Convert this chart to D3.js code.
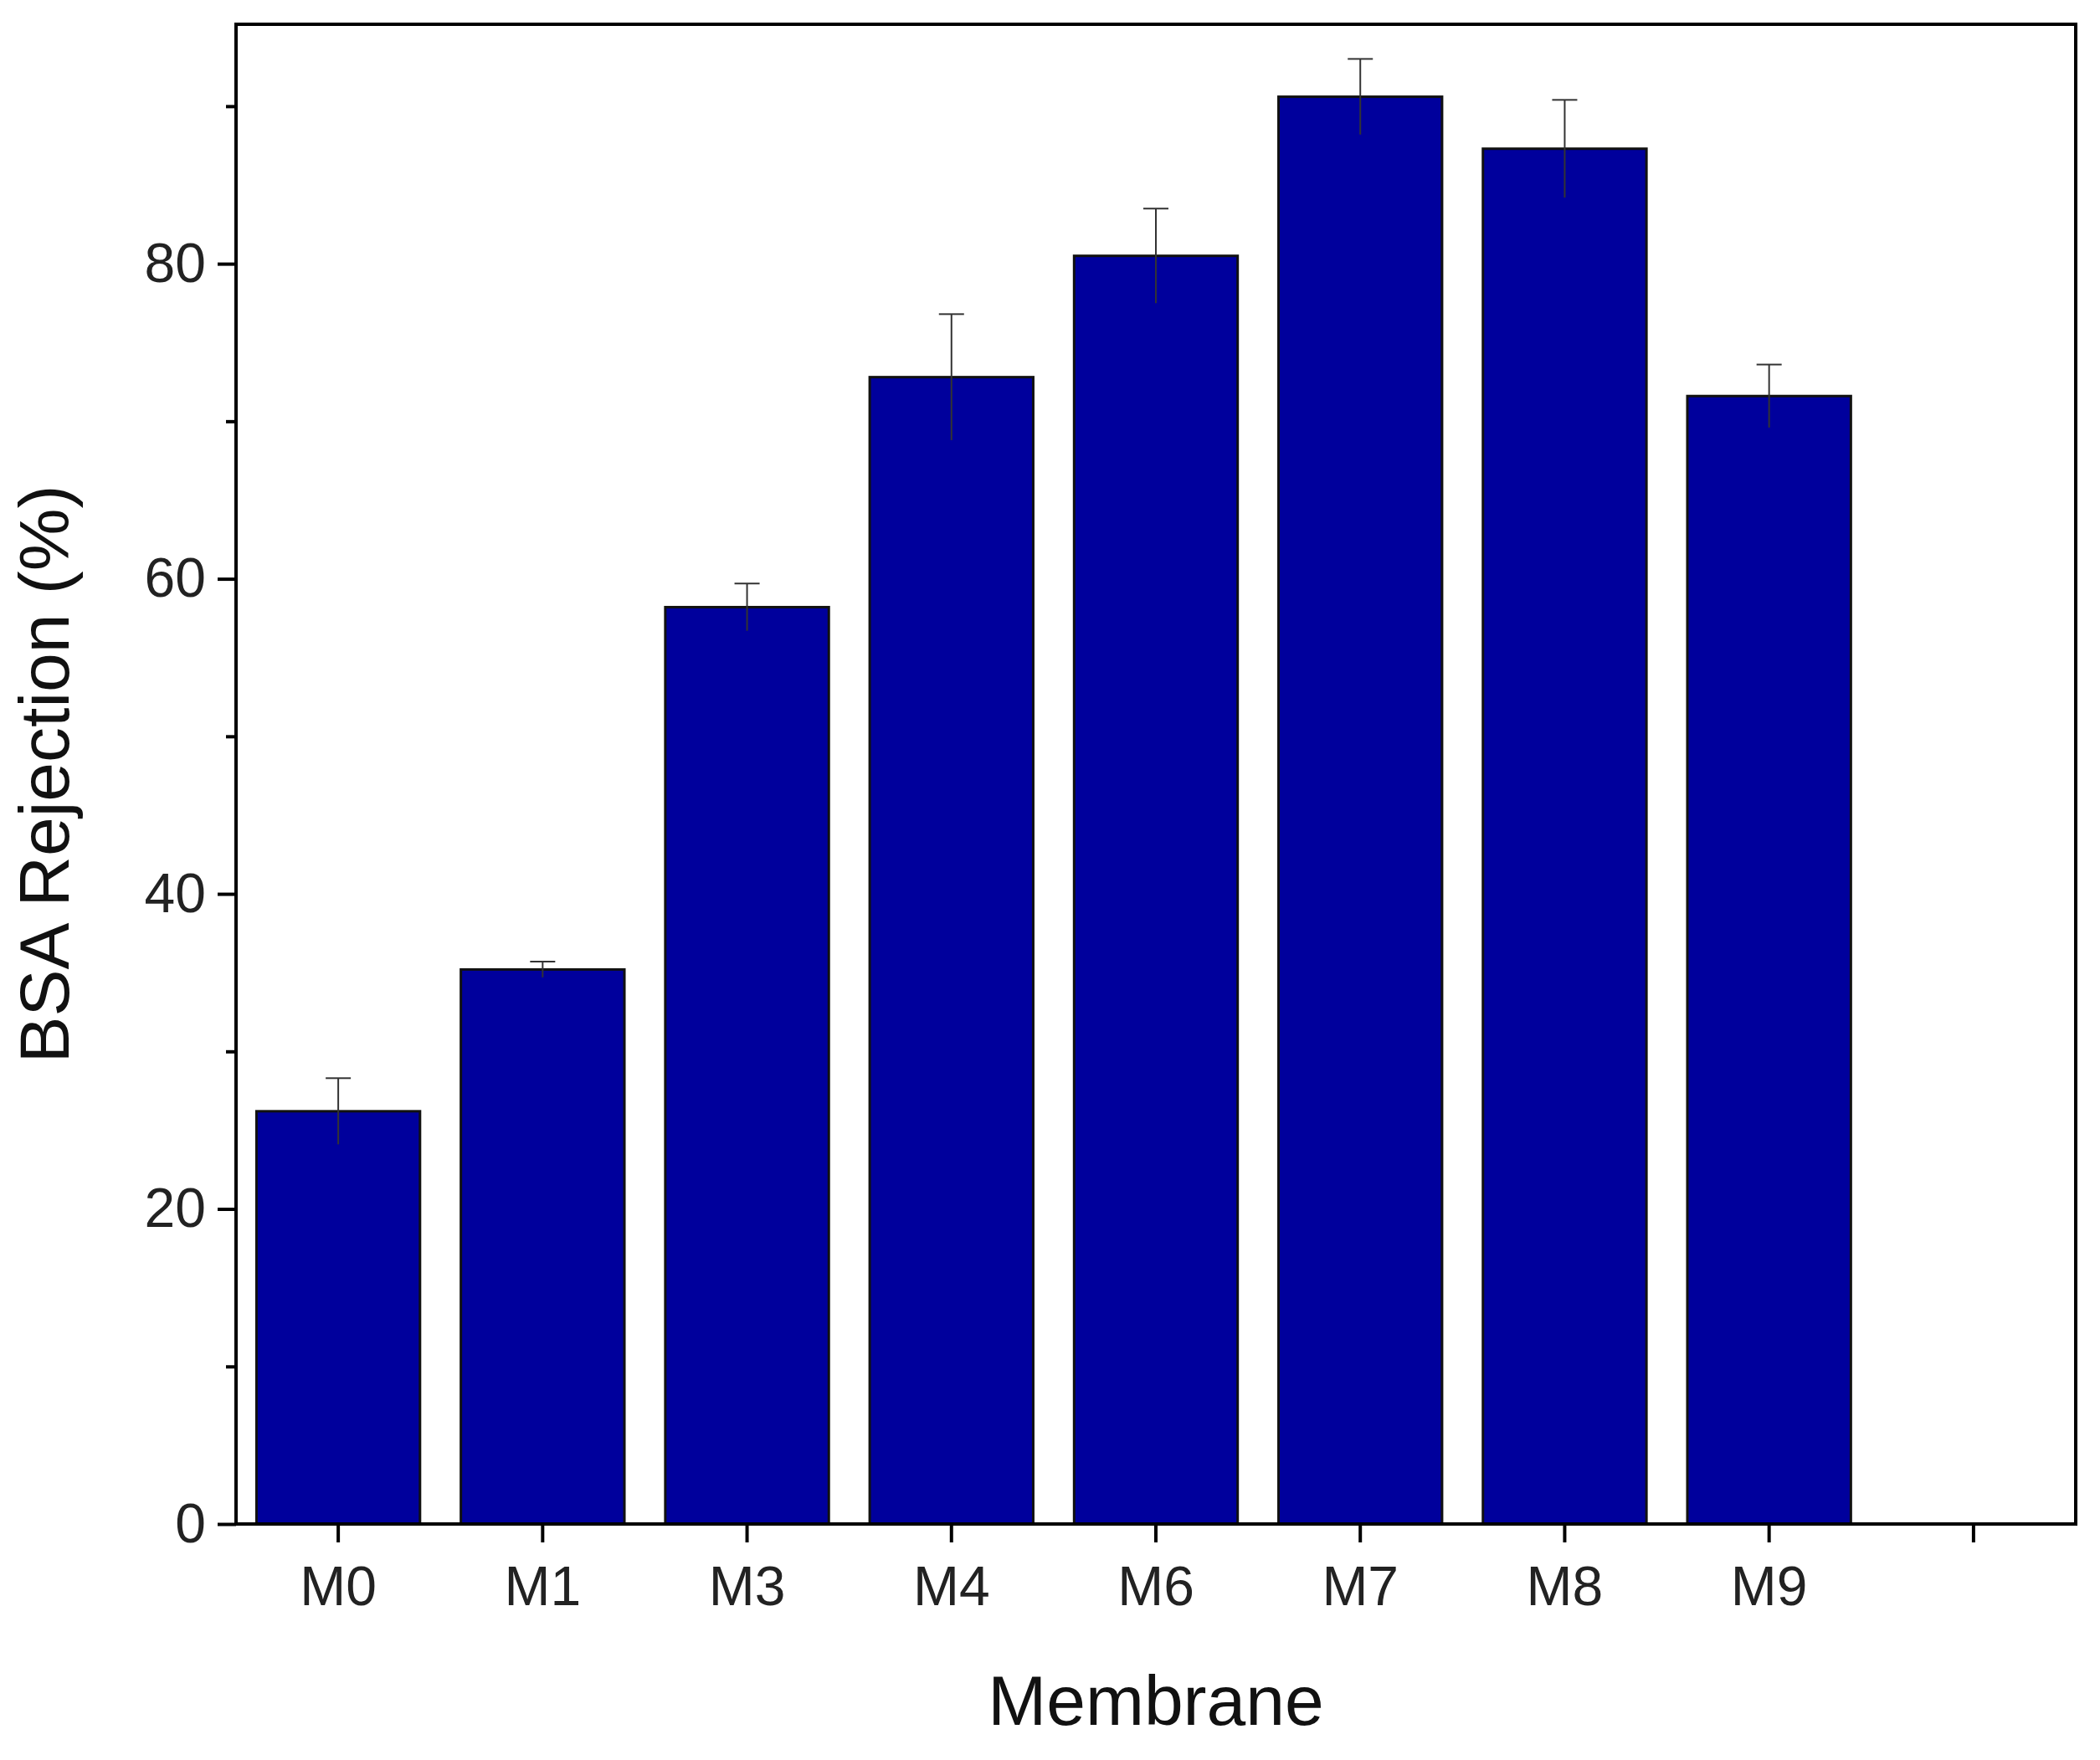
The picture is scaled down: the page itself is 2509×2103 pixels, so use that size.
<!DOCTYPE html>
<html><head><meta charset="utf-8">
<script src="https://cdn.jsdelivr.net/npm/d3@7"></script>
<style>body{margin:0;background:#fff}</style>
</head><body>
<svg id="c" width="2509" height="2103"></svg>
<script>
var categories = ["M0","M1","M3","M4","M6","M7","M8","M9",""];
var values = [26.2, 35.2, 58.2, 72.8, 80.5, 90.6, 87.3, 71.6];
var errors = [2.1, 0.5, 1.5, 4.0, 3.0, 2.4, 3.1, 2.0];
var yTicks = [0, 20, 40, 60, 80];

var m = {l: 282, r: 29, t: 29, b: 282};
var W = 2509, H = 2103;
var svg = d3.select("#c");
var g = svg.append("g").attr("transform", "translate(" + m.l + "," + m.t + ")");
var w = W - m.l - m.r, h = H - m.t - m.b;

var x = d3.scaleBand().domain(categories).range([0, w]).paddingInner(0.2).paddingOuter(0.1);
var y = d3.scaleLinear().domain([0, 95.2]).range([h, 0]);

var data = values.map(function(v, i){ return {c: categories[i], v: v, e: errors[i]}; });

g.selectAll(".bar").data(data).enter().append("rect")
	.attr("x", function(d){ return x(d.c); })
	.attr("y", function(d){ return y(d.v); })
	.attr("width", x.bandwidth())
	.attr("height", function(d){ return h - y(d.v); })
	.attr("fill", "#00009c").attr("stroke", "#111").attr("stroke-width", 3);

var eb = g.selectAll(".err").data(data).enter().append("g")
	.attr("stroke", "#333").attr("stroke-width", 2);
eb.append("line")
	.attr("x1", function(d){ return x(d.c) + x.bandwidth()/2; })
	.attr("x2", function(d){ return x(d.c) + x.bandwidth()/2; })
	.attr("y1", function(d){ return y(d.v - d.e); })
	.attr("y2", function(d){ return y(d.v + d.e); });
eb.append("line")
	.attr("x1", function(d){ return x(d.c) + x.bandwidth()/2 - 15; })
	.attr("x2", function(d){ return x(d.c) + x.bandwidth()/2 + 15; })
	.attr("y1", function(d){ return y(d.v + d.e); })
	.attr("y2", function(d){ return y(d.v + d.e); });

// frame
g.append("rect").attr("width", w).attr("height", h)
	.attr("fill", "none").attr("stroke", "#000").attr("stroke-width", 4);

var font = "'Liberation Sans', Arial, sans-serif";

var ya = g.append("g").call(d3.axisLeft(y).tickValues(yTicks).tickSize(22).tickPadding(14));
ya.select(".domain").remove();
ya.selectAll("line").attr("stroke-width", 4);
ya.selectAll("text").style("font-family", font).style("font-size", "66px").attr("fill", "#222");
var ym = g.append("g").call(d3.axisLeft(y).tickValues([10,30,50,70,90]).tickSize(12).tickFormat(""));
ym.select(".domain").remove();
ym.selectAll("line").attr("stroke-width", 4);

var xa = g.append("g").attr("transform", "translate(0," + h + ")")
	.call(d3.axisBottom(x).tickSize(22).tickPadding(28));
xa.select(".domain").remove();
xa.selectAll("line").attr("stroke-width", 4);
xa.selectAll("text").style("font-family", font).style("font-size", "66px").attr("fill", "#222");

g.append("text").attr("x", w/2).attr("y", h + 240).attr("text-anchor", "middle")
	.style("font-family", font).style("font-size", "84px").attr("fill", "#111").text("Membrane");
g.append("text").attr("transform", "translate(-200," + (h/2) + ") rotate(-90)")
	.attr("text-anchor", "middle")
	.style("font-family", font).style("font-size", "84px").attr("fill", "#111").text("BSA Rejection (%)");
</script>
</body></html>
